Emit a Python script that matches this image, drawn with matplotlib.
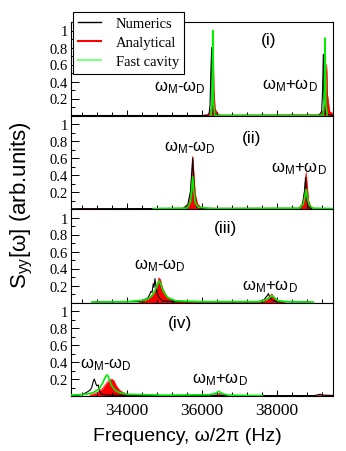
import matplotlib
matplotlib.use('Agg')
import matplotlib.pyplot as plt
from matplotlib.lines import Line2D
from matplotlib.ticker import MultipleLocator, FixedLocator, NullFormatter

plt.rcParams['font.family'] = ['Liberation Sans', 'DejaVu Sans']
plt.rcParams['mathtext.fontset'] = 'custom'
plt.rcParams['mathtext.rm'] = 'Liberation Sans'
plt.rcParams['mathtext.it'] = 'Liberation Sans:italic'

# ---- datos (frecuencia en Hz, S_yy en unidades arb.) ----
# panel (i)
freq_num_1 = [32500, 36150, 36190, 36215, 36235, 36258, 36272, 36300, 36380, 39120, 39190, 39215, 39234, 39250, 39280, 39500]
syy_num_1 = [0, 0, 0.03, 0.12, 0.5, 0.80, 0.2, 0.02, 0, 0, 0.05, 0.3, 0.72, 0.2, 0.02, 0]
freq_ana_1 = [36050, 36200, 36260, 36290, 36306, 36320, 36350, 36420, 36500, 39150, 39260, 39300, 39325, 39345, 39400, 39500]
syy_ana_1 = [0.005, 0.02, 0.1, 0.3, 0.69, 0.3, 0.08, 0.02, 0.005, 0.01, 0.08, 0.3, 0.6, 0.25, 0.05, 0.02]
freq_fast_1 = [36240, 36270, 36287, 36305, 36340, 39230, 39260, 39280, 39300, 39340]
syy_fast_1 = [0, 0.15, 1.0, 0.15, 0, 0, 0.15, 0.91, 0.15, 0]

# panel (ii)
freq_num_2 = [32500, 35500, 35620, 35690, 35730, 35750, 35770, 35800, 35870, 36000, 38600, 38680, 38730, 38760, 38780, 38820, 38900, 39500]
syy_num_2 = [0.003, 0.005, 0.05, 0.2, 0.45, 0.60, 0.4, 0.1, 0.02, 0.005, 0.005, 0.05, 0.2, 0.37, 0.2, 0.04, 0.005, 0.003]
freq_ana_2 = [32700, 32850, 33000, 35500, 35630, 35700, 35735, 35757, 35780, 35820, 35880, 36000,
              38580, 38680, 38735, 38762, 38778, 38800, 38840, 38900, 39000]
syy_ana_2 = [0.003, 0.006, 0.003, 0.01, 0.06, 0.22, 0.47, 0.62, 0.45, 0.18, 0.06, 0.01,
             0.01, 0.07, 0.22, 0.37, 0.43, 0.3, 0.1, 0.03, 0.005]
freq_fast_2 = [34700, 35600, 35690, 35730, 35755, 35780, 35820, 35900, 36300, 38600, 38700, 38750, 38775, 38800, 38850, 38950, 39500]
syy_fast_2 = [0.005, 0.01, 0.08, 0.25, 0.38, 0.22, 0.07, 0.02, 0.005, 0.01, 0.06, 0.17, 0.23, 0.15, 0.05, 0.01, 0.005]

# panel (iii)
freq_num_3 = [33100, 34300, 34450, 34550, 34600, 34640, 34670, 34700, 34720, 34745, 34770, 34800, 34850, 34950, 35200,
              37500, 37650, 37700, 37740, 37770, 37800, 37850, 38000, 38900]
syy_num_3 = [0.005, 0.01, 0.03, 0.05, 0.09, 0.13, 0.12, 0.22, 0.18, 0.28, 0.20, 0.12, 0.06, 0.02, 0.01,
             0.01, 0.03, 0.06, 0.08, 0.105, 0.07, 0.03, 0.01, 0.005]
freq_ana_3 = [34300, 34550, 34700, 34800, 34850, 34890, 34950, 35050, 35200, 35500,
              37550, 37700, 37800, 37860, 37910, 38000, 38200]
syy_ana_3 = [0.01, 0.04, 0.1, 0.2, 0.29, 0.27, 0.17, 0.08, 0.03, 0.01,
             0.01, 0.03, 0.07, 0.10, 0.07, 0.03, 0.01]
freq_fast_3 = [33060, 34000, 34500, 34650, 34750, 34820, 34860, 34900, 34970, 35080, 35300, 36000,
               37500, 37700, 37800, 37860, 37920, 38020, 38300, 38970]
syy_fast_3 = [0.005, 0.01, 0.03, 0.07, 0.14, 0.22, 0.25, 0.22, 0.13, 0.06, 0.02, 0.01,
              0.01, 0.03, 0.06, 0.08, 0.06, 0.02, 0.01, 0.005]

# panel (iv)
freq_num_4 = [32500, 32700, 32830, 32950, 33018, 33060, 33100, 33130, 33165, 33193, 33236, 33260, 33290, 33350, 33500, 34500,
              39000, 39100, 39150, 39200, 39500]
syy_num_4 = [0.005, 0.01, 0.02, 0.05, 0.07, 0.1, 0.17, 0.2, 0.15, 0.12, 0.13, 0.08, 0.03, 0.02, 0.01, 0.005,
             0.005, 0.015, 0.02, 0.01, 0.005]
freq_ana_4 = [33000, 33200, 33350, 33450, 33530, 33590, 33650, 33720, 33800, 33900, 34050, 34300,
              36250, 36400, 36470, 36550, 36700, 39000, 39200, 39500]
syy_ana_4 = [0.01, 0.04, 0.09, 0.15, 0.19, 0.20, 0.18, 0.12, 0.07, 0.04, 0.02, 0.005,
             0.005, 0.02, 0.03, 0.015, 0.005, 0.005, 0.01, 0.01]
freq_fast_4 = [32500, 32900, 33100, 33250, 33350, 33420, 33470, 33520, 33580, 33680, 33800, 34000, 35000,
               36200, 36350, 36450, 36530, 36700, 37600]
syy_fast_4 = [0.01, 0.02, 0.04, 0.08, 0.15, 0.22, 0.25, 0.21, 0.13, 0.07, 0.04, 0.02, 0.01,
              0.015, 0.03, 0.055, 0.03, 0.01, 0.005]

etiquetas_panel = ['(i)', '(ii)', '(iii)', '(iv)']
ticks_y = [0.2, 0.4, 0.6, 0.8, 1.0]
etiquetas_y = ['0.2', '0.4', '0.6', '0.8', '1']

paneles = [
    (freq_num_1, syy_num_1, freq_ana_1, syy_ana_1, freq_fast_1, syy_fast_1),
    (freq_num_2, syy_num_2, freq_ana_2, syy_ana_2, freq_fast_2, syy_fast_2),
    (freq_num_3, syy_num_3, freq_ana_3, syy_ana_3, freq_fast_3, syy_fast_3),
    (freq_num_4, syy_num_4, freq_ana_4, syy_ana_4, freq_fast_4, syy_fast_4),
]

# posiciones de textos (fraccion de ejes)
pos_label = [(0.755, 0.818), (0.69, 0.77), (0.59, 0.807), (0.416, 0.79)]
pos_menos = [(0.416, 0.305), (0.455, 0.663), (0.34, 0.401), (0.134, 0.342)]
pos_mas = [(0.835, 0.326), (0.869, 0.439), (0.759, 0.176), (0.569, 0.182)]

W, H = 346, 452
fig = plt.figure(figsize=(W / 100, H / 100), dpi=100)

izq, der = 70.7, 333.3
arriba, alto = 23.0, 93.5
serif = 'Liberation Serif'

for k, (fn, sn, fa, sa, ff, sf) in enumerate(paneles):
    top_px = arriba + k * alto
    ax = fig.add_axes([izq / W, 1 - (top_px + alto) / H, (der - izq) / W, alto / H])

    # Analitico relleno en rojo, numerico negro, cavidad rapida verde
    ax.fill_between(fa, sa, 0, color='red', lw=0, zorder=1)
    ax.plot(fa, sa, color='red', lw=0.5, zorder=1)
    ax.plot(fn, sn, color='black', lw=0.8, zorder=2)
    ax.plot(ff, sf, color='#00ee00', lw=1.2, zorder=3)

    ax.set_xlim(32500, 39500)
    ax.set_ylim(0, 1.1)

    ax.xaxis.set_major_locator(MultipleLocator(2000))
    ax.xaxis.set_minor_locator(MultipleLocator(400))
    ax.yaxis.set_major_locator(FixedLocator(ticks_y))
    ax.yaxis.set_minor_locator(FixedLocator([0.1, 0.3, 0.5, 0.7, 0.9]))
    ax.set_yticklabels(etiquetas_y, fontfamily=serif, fontsize=10.5)
    ax.tick_params(axis='y', which='major', direction='in', length=6, width=0.7, pad=2)
    ax.tick_params(axis='y', which='minor', direction='in', length=3, width=0.7)
    ax.tick_params(axis='x', which='major', direction='in', length=4, width=0.7, pad=4)
    ax.tick_params(axis='x', which='minor', direction='in', length=3, width=0.7)
    for s in ax.spines.values():
        s.set_linewidth(0.8)

    if k < 3:
        ax.xaxis.set_major_formatter(NullFormatter())
    else:
        for t in ax.get_xticklabels():
            t.set_fontfamily(serif)
            t.set_fontsize(12.5)

    ax.text(*pos_label[k], etiquetas_panel[k], transform=ax.transAxes,
            ha='center', va='center', fontsize=12.5)
    ax.text(*pos_menos[k], r'ω$_\mathrm{M}$-ω$_\mathrm{D}$', transform=ax.transAxes,
            ha='center', va='center', fontsize=12)
    ax.text(*pos_mas[k], r'ω$_\mathrm{M}$+ω$_\mathrm{D}$', transform=ax.transAxes,
            ha='center', va='center', fontsize=12)

    if k == 0:
        manijas = [Line2D([], [], color='black', lw=1),
                   Line2D([], [], color='red', lw=1.5),
                   Line2D([], [], color='#80ff80', lw=1.5)]
        leg = fig.legend(manijas, ['Numerics', 'Analytical', 'Fast cavity'],
                         loc='upper left', bbox_to_anchor=(73 / W, 1 - 13 / H),
                         prop={'family': serif, 'size': 10.5}, frameon=True, fancybox=False,
                         edgecolor='black', framealpha=1, handlelength=1.6, handletextpad=1.0,
                         borderpad=0.35, labelspacing=0.4, borderaxespad=0)
        leg.get_frame().set_linewidth(0.8)
        leg.set_zorder(10)

fig.text(187 / W, 1 - 437 / H, 'Frequency, ω/2π (Hz)', ha='center', va='center', fontsize=14)
fig.text(22 / W, 1 - 205 / H, r'S$_\mathrm{yy}$[ω] (arb.units)', ha='center', va='center',
         rotation=90, fontsize=16)

fig.savefig('out.png', dpi=100)
